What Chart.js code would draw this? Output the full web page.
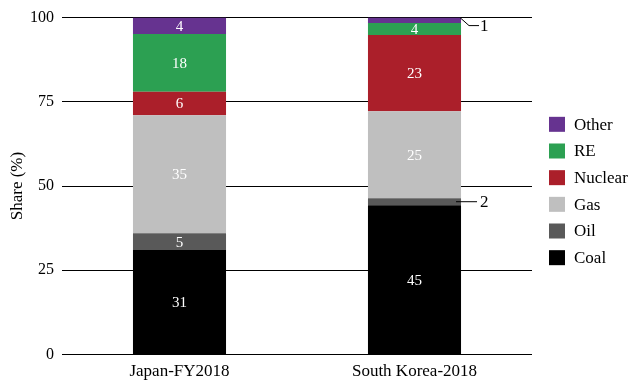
<!DOCTYPE html>
<html>
<head>
<meta charset="utf-8">
<script src="https://cdn.jsdelivr.net/npm/chart.js@4.4.1/dist/chart.umd.min.js"></script>
<style>
html,body{margin:0;padding:0;background:#fff;}
#wrap{width:630px;height:380px;position:relative;}
</style>
</head>
<body>
<div id="wrap"><canvas id="c" width="630" height="380"></canvas></div>
<script>
const categories = ["Japan-FY2018", "South Korea-2018"];
const seriesNames = ["Coal", "Oil", "Gas", "Nuclear", "RE", "Other"];
const coal    = [31.0, 44.3];
const oil     = [5.0, 2.1];
const gas     = [35.05, 25.8];
const nuclear = [6.95, 22.6];
const re      = [17.1, 3.6];
const other   = [4.9, 1.6];
// labels printed on the segments (as shown in the picture)
const coalLabels    = ["31", "45"];
const oilLabels     = ["5", "2"];
const gasLabels     = ["35", "25"];
const nuclearLabels = ["6", "23"];
const reLabels      = ["18", "4"];
const otherLabels   = ["4", "1"];
const yTicks = [0, 25, 50, 75, 100];

const colors = ["#000000", "#595959", "#bfbfbf", "#ab1f2a", "#2ca052", "#663390"];
const values = [coal, oil, gas, nuclear, re, other];
const labels = [coalLabels, oilLabels, gasLabels, nuclearLabels, reLabels, otherLabels];
// segments whose label is drawn outside with a leader line: [datasetIndex, categoryIndex, style]
const outside = [[5, 1, "corner"], [1, 1, "side"]];

const FONT = "\"Liberation Serif\", Tinos, \"Times New Roman\", serif";

const segLabelPlugin = {
  id: "segLabels",
  afterDatasetsDraw(chart) {
    const ctx = chart.ctx;
    ctx.save();
    ctx.font = "15px " + FONT;
    ctx.textAlign = "center";
    ctx.textBaseline = "middle";
    chart.data.datasets.forEach((ds, di) => {
      const meta = chart.getDatasetMeta(di);
      meta.data.forEach((el, i) => {
        const out = outside.find(o => o[0] === di && o[1] === i);
        const txt = labels[di][i];
        const cy = (el.y + el.base) / 2;
        const right = el.x + el.width / 2;
        if (!out) {
          ctx.fillStyle = "#ffffff";
          ctx.fillText(txt, el.x, cy + 1);
        } else {
          ctx.strokeStyle = "#000";
          ctx.lineWidth = 1;
          ctx.beginPath();
          let ty;
          if (out[2] === "corner") {
            ty = el.y + 8;
            ctx.moveTo(right - 1, el.y);
            ctx.lineTo(right + 8, ty);
            ctx.lineTo(right + 18, ty);
          } else {
            ty = cy;
            ctx.moveTo(right - 5, ty);
            ctx.lineTo(right + 16, ty);
          }
          ctx.stroke();
          ctx.fillStyle = "#000";
          ctx.textAlign = "left";
          ctx.font = "17px " + FONT;
          ctx.fillText(txt, right + 19, ty + 1);
          ctx.textAlign = "center";
          ctx.font = "15px " + FONT;
        }
      });
    });
    ctx.restore();
  }
};

const legendPlugin = {
  id: "sideLegend",
  afterDraw(chart) {
    const ctx = chart.ctx;
    ctx.save();
    ctx.font = "17px " + FONT;
    ctx.textAlign = "left";
    ctx.textBaseline = "middle";
    const n = chart.data.datasets.length;
    const step = 26.67;
    const centerY = 191;
    for (let k = 0; k < n; k++) {
      const di = n - 1 - k;
      const ds = chart.data.datasets[di];
      const y = centerY + (k - (n - 1) / 2) * step;
      ctx.fillStyle = ds.backgroundColor;
      ctx.fillRect(549, y - 7.5, 16, 15);
      ctx.fillStyle = "#000";
      ctx.fillText(ds.label, 574, y + 1);
    }
    ctx.restore();
  }
};

Chart.defaults.font.family = FONT;

new Chart(document.getElementById("c"), {
  type: "bar",
  data: {
    labels: categories,
    datasets: seriesNames.map((n, i) => ({
      label: n,
      data: values[i],
      backgroundColor: colors[i],
      borderWidth: 0,
      categoryPercentage: 1,
      barPercentage: 0.396
    }))
  },
  options: {
    responsive: false,
    animation: false,
    devicePixelRatio: 1,
    layout: { padding: { top: 8.5, right: 98, left: 0, bottom: 0 } },
    plugins: { legend: { display: false }, tooltip: { enabled: false } },
    scales: {
      x: {
        stacked: true,
        grid: { display: false, drawTicks: false },
        border: { display: false },
        ticks: { color: "#000", font: { family: FONT, size: 17 }, padding: 7 },
        afterFit(s) { s.height = 25.5; }
      },
      y: {
        stacked: true,
        min: 0, max: 100,
        afterBuildTicks(s) { s.ticks = yTicks.map(v => ({ value: v })); },
        grid: { color: "#000", lineWidth: 1, drawTicks: false },
        border: { display: false },
        ticks: { color: "#000", font: { family: FONT, size: 16 }, padding: 8 },
        title: { display: true, text: "Share (%)", color: "#000", font: { family: FONT, size: 17 }, padding: { top: 7, bottom: 0 } },
        afterFit(s) { s.width = 62; }
      }
    }
  },
  plugins: [segLabelPlugin, legendPlugin]
});
</script>
</body>
</html>
